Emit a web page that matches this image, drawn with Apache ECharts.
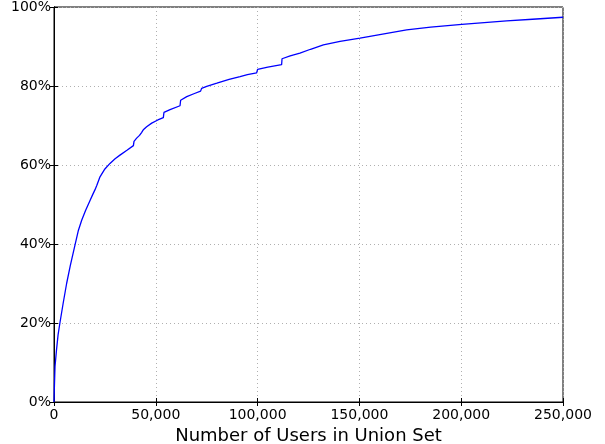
<!DOCTYPE html>
<html>
<head>
<meta charset="utf-8">
<script src="https://cdn.jsdelivr.net/npm/echarts@6/dist/echarts.min.js"></script>
<style>
  html, body { margin: 0; padding: 0; background: #fff; }
  #main { width: 605px; height: 444px; }
</style>
</head>
<body>
<div id="main"></div>
<script>
// cumulative share of users vs size of union set
const users = [0, 200, 500, 1200, 2000, 2900, 4500, 6200, 8000, 10300, 12000, 13600, 15500, 17700,
  19000, 20100, 21000, 22600, 25000, 27500, 30000, 32400, 36000, 39000, 39300, 40600, 42000, 43000,
  44000, 45500, 48000, 51000, 53700, 54000, 57000, 61900, 62200, 65200, 69000, 72000, 72500, 75000,
  80000, 86000, 91400, 95000, 99500, 100000, 105000, 111800, 112000, 116000, 120800, 126000, 132300,
  140500, 150300, 160000, 173200, 185000, 200300, 222300, 235000, 250000]
const percent = [0, 4, 9, 13, 17, 20, 25, 30, 34.5, 39.7, 43.5, 46, 48.5, 51,
  52.5, 53.7, 54.8, 57, 59, 60.4, 61.6, 62.5, 63.8, 64.9, 66.0, 66.8, 67.5, 68.2,
  69.0, 69.7, 70.6, 71.4, 72.0, 73.3, 74.0, 75.0, 76.4, 77.3, 78.1, 78.7, 79.4, 79.9,
  80.7, 81.7, 82.4, 82.9, 83.3, 84.2, 84.8, 85.4, 86.9, 87.6, 88.3, 89.3, 90.4,
  91.3, 92.1, 93.0, 94.2, 94.9, 95.6, 96.5, 96.9, 97.4]

const xTicks = [0, 50000, 100000, 150000, 200000, 250000]
const yTicks = [0, 20, 40, 60, 80, 100]

const chart = echarts.init(document.getElementById('main'), null, { renderer: 'canvas' })

const font = 'DejaVu Sans'
const gridLine = { show: true, lineStyle: { color: '#b0b0b0', type: [1, 3], width: 1 } }

const option = {
  animation: false,
  backgroundColor: '#fff',
  grid: {
    left: 54, right: 42, top: 7, bottom: 42,
    outerBoundsMode: 'none', containLabel: false,
    show: true, borderColor: '#000', borderWidth: 1
  },
  xAxis: [
    {
      type: 'value', min: xTicks[0], max: xTicks[xTicks.length - 1], interval: 50000,
      name: 'Number of Users in Union Set',
      nameLocation: 'middle', nameGap: 22,
      nameTextStyle: { fontFamily: font, fontSize: 18, color: '#000' },
      axisLine: { show: true, lineStyle: { color: '#000' } },
      axisTick: { show: true, inside: true, length: 4, lineStyle: { color: '#000' } },
      axisLabel: {
        fontFamily: font, fontSize: 14, color: '#000', margin: 6,
        formatter: v => v.toLocaleString('en-US')
      },
      splitLine: gridLine
    },
    {
      type: 'value', min: xTicks[0], max: xTicks[xTicks.length - 1], interval: 50000, position: 'top',
      axisLine: { show: true, lineStyle: { color: '#000' } },
      axisTick: { show: true, inside: true, length: 4, lineStyle: { color: '#000' } },
      axisLabel: { show: false },
      splitLine: { show: false }
    }
  ],
  yAxis: [
    {
      type: 'value', min: yTicks[0], max: yTicks[yTicks.length - 1], interval: 20,
      axisLine: { show: true, lineStyle: { color: '#000' } },
      axisTick: { show: true, inside: true, length: 4, lineStyle: { color: '#000' } },
      axisLabel: {
        fontFamily: font, fontSize: 14, color: '#000', margin: 3,
        formatter: v => v + '%'
      },
      splitLine: gridLine
    },
    {
      type: 'value', min: yTicks[0], max: yTicks[yTicks.length - 1], interval: 20, position: 'right',
      axisLine: { show: true, lineStyle: { color: '#000' } },
      axisTick: { show: true, inside: true, length: 4, lineStyle: { color: '#000' } },
      axisLabel: { show: false },
      splitLine: { show: false }
    }
  ],
  series: [
    {
      type: 'line',
      data: users.map((u, i) => [u, percent[i]]),
      showSymbol: false,
      smooth: false,
      lineStyle: { color: '#0000ff', width: 1.3 },
      itemStyle: { color: '#0000ff' }
    }
  ]
}

chart.setOption(option)
</script>
</body>
</html>
